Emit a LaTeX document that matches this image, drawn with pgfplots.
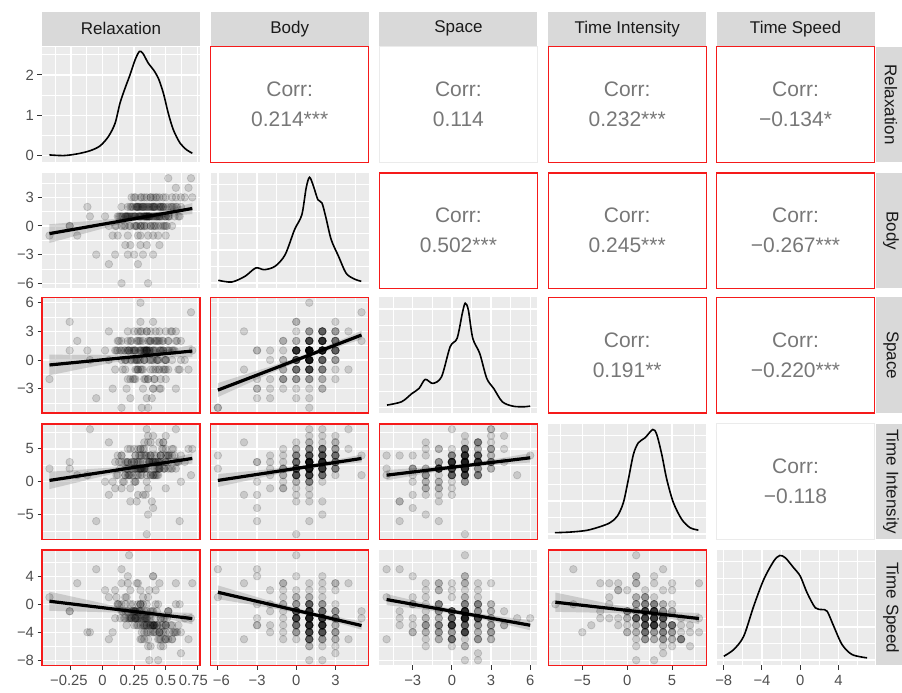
\documentclass[border=0pt]{standalone}
\usepackage{pgfplots}
\pgfplotsset{compat=1.18}
\usepackage{pgfplotstable}
\usepackage{fontspec}
\setmainfont{Liberation Sans}
\definecolor{panelbg}{HTML}{EBEBEB}
\definecolor{stripbg}{HTML}{D9D9D9}
\definecolor{tickc}{HTML}{4D4D4D}
\definecolor{tickm}{HTML}{333333}
\definecolor{stripc}{HTML}{1A1A1A}
\definecolor{corrc}{HTML}{777777}
\definecolor{redb}{HTML}{F51A1A}
\definecolor{bandc}{HTML}{999999}

\pgfplotstableread{
R B S TI TS
0.15 -6 -5 4 5
0.36 -6 -5 2 1
0.05 -4 3 6 -5
0.28 -4 -1 -2 3
0.20 -3 1 3 4
0.10 -3 1 3 -2
0.32 -3 -3 -2 0
0.40 -3 -3 -4 -3
-0.05 -3 -4 -6 5
0.25 -3 -2 0 -3
0.30 -2 1 1 0
0.18 -2 0 3 -1
0.45 -2 -3 2 -4
0.22 -2 -2 -1 2
0.35 -2 -4 4 -3
0.30 -1 2 5 2
0.12 -1 1 4 0
0.40 -1 0 3 -1
0.28 -1 -1 2 0
0.50 -1 -1 -1 -3
0.20 -1 -2 1 3
0.36 -1 -2 -1 -2
0.08 -1 -3 0 -4
0.44 -1 0 2 -5
-0.42 -1 -2 2 1
-0.20 -1 2 1 3
0.30 0 4 5 -3
0.25 0 3 3 -1
0.42 0 2 1 -2
0.15 0 2 4 0
0.33 0 1 2 -2
0.48 0 1 6 -4
0.21 0 1 1 7
0.38 0 1 3 -1
0.05 0 0 -2 1
0.27 0 0 2 -3
0.55 0 0 4 -5
0.35 0 1 -8 0
0.18 0 0 1 -2
0.44 0 -1 3 0
0.10 0 -1 -1 2
0.31 0 -1 2 -4
0.26 0 -2 0 -1
0.50 0 -2 5 -3
0.40 0 -3 1 4
0.22 0 -4 -3 -2
-0.26 0 4 3 -1
-0.26 0 1 2 -1
0.30 1 6 4 -2
0.35 1 3 3 -3
0.20 1 3 5 -1
0.45 1 3 2 -4
0.28 1 2 3 -2
0.38 1 2 6 -3
0.12 1 2 1 0
0.52 1 2 4 -5
0.33 1 1 2 -1
0.25 1 1 3 -2
0.41 1 1 4 -3
0.18 1 1 1 1
0.47 1 1 5 -4
0.30 1 1 2 0
0.36 1 1 7 -6
0.02 1 1 0 2
0.29 1 0 3 -1
0.43 1 0 2 -3
0.22 1 0 1 -2
0.37 1 1 3 -8
0.15 1 0 -1 3
0.50 1 0 3 -5
0.32 1 -1 2 -2
0.26 1 -1 0 -1
0.40 1 -1 5 -4
0.60 1 -1 3 -3
0.24 1 -2 1 0
0.34 1 -2 -2 -2
0.46 1 -2 4 -6
0.19 1 -3 2 1
0.39 1 -4 -3 -1
0.31 1 -5 1 -5
-0.10 1 0 8 -4
0.61 1 -1 -6 0
0.35 2 3 8 -2
0.28 2 3 5 -3
0.42 2 3 3 0
0.50 2 3 7 -4
0.20 2 2 2 -1
0.38 2 2 4 -2
0.45 2 2 6 -5
0.32 2 2 3 1
0.55 2 1 2 -3
0.26 2 1 4 -2
0.40 2 1 1 4
0.15 2 1 3 -1
0.48 2 1 5 -6
0.33 2 0 2 -3
0.62 2 0 0 -4
0.23 2 0 3 -2
0.37 2 0 4 2
0.44 2 2 1 -8
0.30 2 -1 2 -5
0.52 2 -1 3 -1
0.27 2 -1 -3 3
0.41 2 -2 1 -4
0.36 2 -2 -5 -4
0.58 2 -3 2 0
0.46 2 -3 4 -2
-0.12 2 1 1 -4
0.40 3 4 7 -3
0.55 3 3 5 -5
0.30 3 3 3 0
0.48 3 2 6 -2
0.62 3 2 4 -7
0.35 3 1 2 -4
0.45 3 1 3 3
0.25 3 1 5 -1
0.50 3 0 4 -3
0.38 3 0 1 -6
0.65 3 0 3 -2
0.42 3 -1 2 2
0.33 3 -2 6 -5
0.71 3 1 5 3
0.58 4 3 8 3
0.68 4 -1 5 -5
0.70 5 5 1 -2
0.52 5 2 4 -1
0.14 1 1 2 -2
0.47 2 2 3 -3
0.27 0 0 1 -1
0.53 1 1 4 -4
0.34 2 1 2 -2
0.19 1 0 3 -3
0.43 3 2 4 -1
0.29 1 2 2 -2
0.38 0 -1 1 -3
0.56 2 1 5 -4
0.23 1 1 3 -1
0.31 2 3 4 -2
0.49 1 0 2 -5
0.17 0 1 0 -2
0.41 2 2 3 -3
0.35 1 1 1 -1
0.26 3 1 4 -2
0.45 1 -1 2 -4
0.13 1 2 3 0
0.39 2 0 3 -3
0.51 0 1 4 -2
0.24 2 1 2 -1
0.33 1 0 5 -3
0.58 3 2 3 -4
0.21 1 1 1 -2
0.46 2 1 4 -5
0.30 0 0 2 -1
0.37 1 2 3 -2
0.54 2 3 2 -3
0.16 1 -1 0 -1
0.42 1 1 3 -4
0.28 2 0 1 -2
0.34 1 1 4 -3
0.49 0 -1 2 -2
0.22 2 2 5 0
0.44 1 0 3 -3
0.31 3 1 2 -1
0.57 1 1 4 -4
0.26 1 0 2 -2
0.40 2 1 3 -3
0.11 0 1 1 1
0.36 1 2 6 -5
0.48 2 -1 2 -3
0.20 1 1 3 -2
0.33 0 0 4 -4
0.52 1 1 2 -1
0.27 2 2 3 -2
0.43 1 0 1 -3
0.38 3 3 4 -4
0.18 1 -1 2 0
0.46 0 1 3 -2
0.32 2 1 5 -3
0.25 1 0 2 -1
0.59 2 2 3 -4
0.35 1 1 0 -2
0.41 0 -2 2 -3
0.29 2 1 4 -1
0.50 1 0 3 -5
0.23 3 2 2 -2
0.37 1 1 3 -3
}\data

\pgfplotsset{
 panel/.style={scale only axis, width=158pt, height=115.5pt, anchor=south west,
   axis line style={draw=none},
   axis background/.style={fill=panelbg},
   grid=both,
   major grid style={draw=white, line width=1.4pt},
   minor grid style={draw=white, line width=0.7pt},
   tick align=outside, major tick length=4.5pt, minor tick length=0pt,
   xmajorticks=false, ymajorticks=false,
   tick pos=left,
   xticklabels={}, yticklabels={},
   major tick style={draw=tickm, line width=1pt},
   ticklabel style={font=\fontsize{14.8}{16}\selectfont, text=tickc},
   xticklabel style={yshift=-1.5pt},
   clip=true},
 colR/.style={xmin=-0.479, xmax=0.771, xtick={-0.25,0,0.25,0.5,0.75}, minor xtick={-0.375,-0.125,0.125,0.375,0.625}},
 colB/.style={xmin=-6.55, xmax=5.55, xtick={-6,-3,0,3}, minor xtick={-4.5,-1.5,1.5,4.5}},
 colS/.style={xmin=-5.55, xmax=6.55, xtick={-3,0,3,6}, minor xtick={-4.5,-1.5,1.5,4.5}},
 colTI/.style={xmin=-8.8, xmax=8.8, xtick={-5,0,5}, minor xtick={-7.5,-2.5,2.5,7.5}},
 colTS/.style={xmin=-8.75, xmax=7.75, xtick={-8,-4,0,4}, minor xtick={-6,-2,2,6}},
 rowR/.style={ymin=-0.164, ymax=2.70, ytick={0,1,2}, minor ytick={0.5,1.5,2.5}},
 rowB/.style={ymin=-6.55, ymax=5.55, ytick={-6,-3,0,3}, minor ytick={-4.5,-1.5,1.5,4.5}},
 rowS/.style={ymin=-5.55, ymax=6.55, ytick={-3,0,3,6}, minor ytick={-4.5,-1.5,1.5,4.5}},
 rowTI/.style={ymin=-8.8, ymax=8.8, ytick={-5,0,5}, minor ytick={-7.5,-2.5,2.5,7.5}},
 rowTS/.style={ymin=-8.75, ymax=7.75, ytick={-8,-4,0,4}, minor ytick={-6,-2,2,6}},
 diagB/.style={ymin=-6.55, ymax=5.55, ytick={-5.963,-2.527,0.909,4.345}, minor ytick={-4.245,-0.809,2.627}},
 diagS/.style={ymin=-5.55, ymax=6.55, ytick={-4.963,-1.527,1.909,5.345}, minor ytick={-3.245,0.191,3.627}},
 diagTI/.style={ymin=-8.8, ymax=8.8, ytick={-7.947,-2.947,2.053,7.053}, minor ytick={-5.447,-0.447,4.553}},
 diagTS/.style={ymin=-8.75, ymax=7.75, ytick={-7.95,-3.264,1.422,6.108}, minor ytick={-5.607,-0.921,3.765}},
 leftlab/.style={ymajorticks=true, yticklabels={#1}},
 botlab/.style={xmajorticks=true, xticklabels={#1}},
 pts/.style={only marks, mark=*, mark size=3.8pt, mark options={fill=black, draw=black, fill opacity=0.14, draw opacity=0.14, line width=0.7pt}},
 band/.style={draw=none, fill=bandc, fill opacity=0.4},
 regline/.style={black, line width=3.2pt},
 dens/.style={black, line width=1.6pt, smooth, tension=0.5},
}

\newcommand{\scat}[7]{%
\begin{axis}[panel, at={(#1pt,#2pt)}, #3]
\addplot[pts] table[x=#4,y=#5]{\data};
\addplot[band] coordinates {#6};
\addplot[regline] coordinates {#7};
\end{axis}}

\newcommand{\corr}[3]{%
\node[align=center, font=\fontsize{21}{30}\selectfont, text=corrc] at (#1pt+79pt,#2pt+57.75pt) {Corr:\\#3};}

\begin{document}
\begin{tikzpicture}
\useasboundingbox (0,0) rectangle (902pt,693pt);

% ---------- top strips
\foreach \xx/\nm in {42/Relaxation, 210.7/Body, 379.4/Space, 548.2/Time Intensity, 716.5/Time Speed}{
  \fill[stripbg] (\xx pt,647.3pt) rectangle ++(158pt,34pt);
  \node[font=\fontsize{17}{20}\selectfont, text=stripc] at (\xx pt+79pt,664.3pt) {\nm};
}
% ---------- right strips
\foreach \yy/\nm in {530.8/Relaxation, 404.5/Body, 280/Space, 153.5/Time Intensity, 27.5/Time Speed}{
  \fill[stripbg] (876pt,\yy pt) rectangle ++(34pt,115.5pt);
  \node[font=\fontsize{17}{20}\selectfont, text=stripc, rotate=-90] at (891pt,\yy pt+57.75pt) {\nm};
}

% ---------- row 1
\begin{axis}[panel, at={(42pt,530.8pt)}, colR, rowR, leftlab={0,1,2}]
\addplot[dens] coordinates {(-0.421,0.017) (-0.31,0) (-0.204,0.04) (-0.099,0.12) (-0.02,0.24) (0.046,0.47) (0.099,0.80) (0.138,1.30) (0.178,1.67) (0.217,2.0) (0.257,2.37) (0.291,2.58) (0.318,2.54) (0.362,2.29) (0.402,2.13) (0.441,1.92) (0.481,1.55) (0.52,1.05) (0.56,0.64) (0.613,0.31) (0.666,0.14) (0.71,0.06)};
\end{axis}
\corr{210.7}{530.8}{0.214***}
\corr{379.4}{530.8}{0.114}
\corr{548.2}{530.8}{0.232***}
\corr{716.5}{530.8}{−0.134*}

% ---------- row 2
\scat{42}{404.5}{colR,rowB,leftlab={−6,−3,0,3}}{R}{B}{(-0.42,0.18) (0.075,0.71) (0.30,1.075) (0.525,1.76) (0.71,2.41) (0.71,1.25) (0.525,1.04) (0.30,0.675) (0.075,-0.01) (-0.42,-1.78)}{(-0.42,-0.8) (0.71,1.83)}
\begin{axis}[panel, at={(210.7pt,404.5pt)}, colB, diagB]
\addplot[dens] coordinates {(-5.97,-5.69) (-4.94,-5.87) (-3.92,-5.27) (-3.10,-4.40) (-2.44,-4.58) (-1.62,-4.22) (-0.85,-3.01) (-0.13,-0.39) (0.43,1.18) (0.76,3.98) (1.02,5.1) (1.32,4.16) (1.66,2.75) (1.97,2.41) (2.28,0.84) (2.68,-1.44) (3.24,-3.18) (3.81,-4.93) (4.39,-5.52) (4.98,-5.80)};
\end{axis}
\corr{379.4}{404.5}{0.502***}
\corr{548.2}{404.5}{0.245***}
\corr{716.5}{404.5}{−0.267***}

% ---------- row 3
\scat{42}{280}{colR,rowS,leftlab={−3,0,3,6}}{R}{S}{(-0.42,0.56) (0.075,0.52) (0.30,0.63) (0.525,1.10) (0.71,1.58) (0.71,0.30) (0.525,0.30) (0.30,0.19) (0.075,-0.28) (-0.42,-1.60)}{(-0.42,-0.52) (0.71,0.94)}
\scat{210.7}{280}{colB,rowS}{B}{S}{(-6,-2.42) (-2,-0.69) (1,0.72) (4,2.45) (5,3.07) (5,2.17) (4,1.73) (1,0.32) (-2,-1.41) (-6,-3.88)}{(-6,-3.15) (5,2.62)}
\begin{axis}[panel, at={(379.4pt,280pt)}, colS, diagS]
\addplot[dens] coordinates {(-4.97,-4.72) (-3.85,-4.37) (-3.05,-3.5) (-2.51,-2.97) (-2.04,-2.03) (-1.46,-2.45) (-0.79,-1.75) (-0.13,1.4) (0.40,2.27) (0.80,4.9) (1.02,5.95) (1.26,5.25) (1.60,2.27) (2.13,0.70) (2.67,-1.92) (3.20,-2.97) (3.86,-4.37) (4.66,-4.83) (5.46,-4.9) (6.0,-4.83)};
\end{axis}
\corr{548.2}{280}{0.191**}
\corr{716.5}{280}{−0.220***}

% ---------- row 4
\scat{42}{153.5}{colR,rowTI,leftlab={−5,0,5}}{R}{TI}{(-0.42,1.52) (0.075,2.16) (0.3,2.61) (0.525,3.49) (0.71,4.34) (0.71,2.76) (0.525,2.51) (0.3,2.07) (0.075,1.18) (-0.42,-1.12)}{(-0.42,0.2) (0.71,3.55)}
\scat{210.7}{153.5}{colB,rowTI}{B}{TI}{(-6,1.18) (-2,1.91) (1,2.60) (4,3.74) (5,4.15) (5,2.95) (4,2.76) (1,2.06) (-2,0.93) (-6,-0.78)}{(-6,0.2) (5,3.55)}
\scat{379.4}{153.5}{colS,rowTI}{S}{TI}{(-5,1.79) (-2.35,2.13) (0.8,2.67) (3.95,3.65) (6,4.37) (6,2.93) (3.95,2.67) (0.8,2.13) (-2.35,1.15) (-5,0.21)}{(-5,1.0) (6,3.65)}
\begin{axis}[panel, at={(548.2pt,153.5pt)}, colTI, diagTI]
\addplot[dens] coordinates {(-8.05,-7.76) (-6.37,-7.67) (-4.51,-7.41) (-3.03,-6.85) (-1.91,-6.24) (-1.1,-5.24) (-0.43,-3.2) (0.13,0.35) (0.69,4.16) (1.24,5.94) (1.99,6.7) (2.85,7.96) (3.29,7.2) (3.85,4.16) (4.41,0.35) (5.15,-3.2) (6.08,-5.74) (7.0,-7.0) (7.93,-7.37)};
\end{axis}
\corr{716.5}{153.5}{−0.118}

% ---------- row 5
\scat{42}{27.5}{colR,rowTS,leftlab={−8,−4,0,4},botlab={\hspace*{-4pt}−0.25,0,0.25,0.5,\hspace*{-8pt}0.75}}{R}{TS}{(-0.42,1.80) (0.075,-0.16) (0.3,-0.87) (0.525,-1.14) (0.71,-1.24) (0.71,-2.86) (0.525,-2.14) (0.3,-1.43) (0.075,-1.16) (-0.42,-0.94)}{(-0.42,0.43) (0.71,-2.05)}
\scat{210.7}{27.5}{colB,rowTS,botlab={\hspace*{7pt}−6,−3,0,3}}{B}{TS}{(-6,2.69) (-2,0.47) (1,-1.04) (4,-2.12) (5,-2.44) (5,-3.64) (4,-3.10) (1,-1.58) (-2,-0.51) (-6,0.73)}{(-6,1.71) (5,-3.04)}
\scat{379.4}{27.5}{colS,rowTS,botlab={−3,0,3,6}}{S}{TS}{(-5,1.46) (-2.35,0.28) (0.8,-1.0) (3.95,-1.83) (6,-2.28) (6,-3.72) (3.95,-2.81) (0.8,-1.54) (-2.35,-0.70) (-5,-0.12)}{(-5,0.67) (6,-3.0)}
\scat{548.2}{27.5}{colTI,rowTS,botlab={−5,0,5}}{TI}{TS}{(-8,1.67) (-1.6,-0.04) (2.3,-0.87) (6.2,-1.18) (8,-1.24) (8,-2.84) (6.2,-2.38) (2.3,-1.55) (-1.6,-1.24) (-8,-1.09)}{(-8,0.29) (8,-2.04)}
\begin{axis}[panel, at={(716.5pt,27.5pt)}, colTS, diagTS, botlab={−8,−4,0,4}]
\addplot[dens] coordinates {(-7.99,-7.43) (-6.95,-6.47) (-5.91,-4.57) (-4.87,-0.29) (-3.82,3.53) (-2.78,6.14) (-2.15,6.96) (-1.56,6.63) (-0.69,5.2) (0.0,4.0) (0.71,1.63) (1.57,-0.51) (2.27,-0.76) (2.8,-1.0) (3.49,-3.14) (4.36,-5.76) (5.41,-7.19) (6.97,-7.66)};
\end{axis}

% ---------- panel borders
\foreach \xx/\yy in {210.7/530.8, 548.2/530.8, 716.5/530.8, 379.4/404.5, 548.2/404.5, 716.5/404.5, 42/280, 210.7/280, 548.2/280, 716.5/280, 42/153.5, 210.7/153.5, 379.4/153.5, 42/27.5, 210.7/27.5, 548.2/27.5}{
  \draw[redb, line width=1.3pt] (\xx pt,\yy pt) rectangle ++(158pt,115.5pt);
}
\foreach \xx/\yy in {379.4/530.8, 716.5/153.5}{
  \draw[panelbg, line width=1pt] (\xx pt,\yy pt) rectangle ++(158pt,115.5pt);
}
\end{tikzpicture}
\end{document}
